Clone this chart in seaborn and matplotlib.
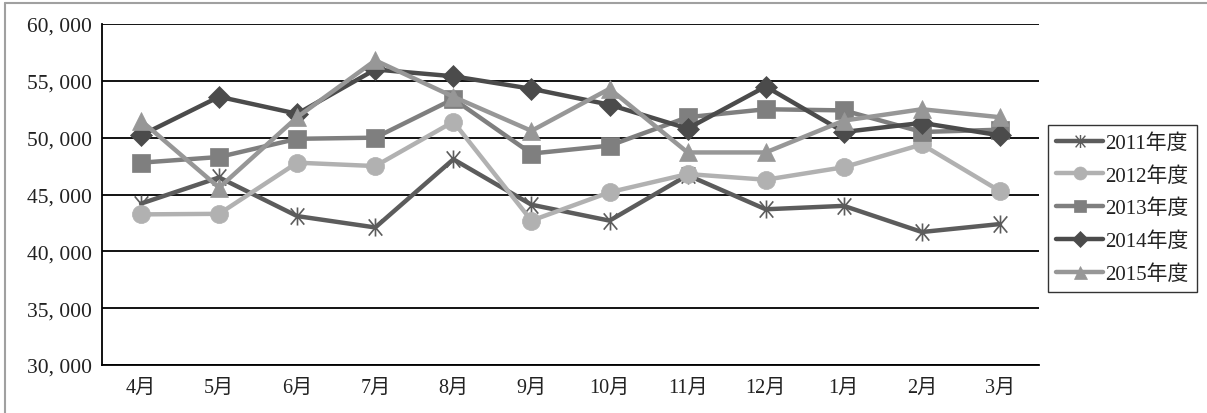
import matplotlib
matplotlib.use("Agg")
import matplotlib.pyplot as plt
from matplotlib.path import Path
from matplotlib.lines import Line2D
import seaborn as sns
import pandas as pd
import numpy as np

months = ["4月", "5月", "6月", "7月", "8月", "9月", "10月", "11月", "12月", "1月", "2月", "3月"]
series_names = ["2011年度", "2012年度", "2013年度", "2014年度", "2015年度"]
v2011 = [44200, 46500, 43100, 42100, 48100, 44100, 42700, 46700, 43700, 44000, 41700, 42400]
v2012 = [43250, 43300, 47800, 47500, 51400, 42700, 45200, 46800, 46300, 47400, 49400, 45300]
v2013 = [47800, 48300, 49900, 50000, 53400, 48600, 49300, 51800, 52500, 52400, 50500, 50700]
v2014 = [50200, 53600, 52100, 56000, 55400, 54300, 52900, 50800, 54500, 50500, 51300, 50200]
v2015 = [51500, 45600, 51800, 56800, 53600, 50600, 54300, 48700, 48700, 51500, 52500, 51800]
ytick_vals = [30000, 35000, 40000, 45000, 50000, 55000, 60000]
ytick_labels = ["30, 000", "35, 000", "40, 000", "45, 000", "50, 000", "55, 000", "60, 000"]

colors = ["#5c5c5c", "#b1b1b1", "#7f7f7f", "#4b4b4b", "#979797"]

# asterisk marker: vertical + X
ast = Path([(0, -1), (0, 1), (-0.75, -0.9), (0.75, 0.9), (-0.75, 0.9), (0.75, -0.9)],
           [Path.MOVETO, Path.LINETO, Path.MOVETO, Path.LINETO, Path.MOVETO, Path.LINETO])
markers = [ast, "o", "s", "D", "^"]
msizes = [13, 13, 12.5, 11, 13]

sns.set_theme(style="white")
plt.rcParams["font.family"] = ["Liberation Serif", "Noto Sans CJK JP", "DejaVu Sans"]

fig = plt.figure(figsize=(12.07, 4.14), dpi=100)
ax = fig.add_axes([102 / 1207, 1 - 366 / 414, (1039 - 102) / 1207, (366 - 25) / 414])

data = [v2011, v2012, v2013, v2014, v2015]
x = np.arange(len(months))
handles = []
for name, vals, c, m, ms in zip(series_names, data, colors, markers, msizes):
    df = pd.DataFrame({"x": x, "y": vals})
    sns.lineplot(data=df, x="x", y="y", ax=ax, color=c, linewidth=3.2,
                 marker=m, markersize=ms, markeredgecolor=c, markerfacecolor=c,
                 markeredgewidth=1.2 if m is ast else 0.5, zorder=3)
    handles.append(Line2D([], [], color=c, linewidth=3.2, marker=m,
                          markersize=ms * 0.72, markeredgecolor=c, markerfacecolor=c,
                          markeredgewidth=1.0 if m is ast else 0.5))

ax.set_xlim(-0.5, len(months) - 0.5)
ax.set_ylim(30000, 60000)
ax.set_yticks(ytick_vals)
ax.set_yticklabels(ytick_labels, fontsize=15.5)
ax.set_xticks(x)
ax.set_xticklabels(months, fontsize=14.5)
ax.set_xticks(np.arange(-0.5, len(months), 1.0), minor=True)
ax.tick_params(axis="x", which="major", length=0, pad=9, colors="#222222")
ax.tick_params(axis="x", which="minor", length=6, width=1.2, color="black", direction="out")
ax.tick_params(axis="y", which="major", length=5, width=1.2, color="black", direction="out", pad=2,
               labelcolor="#222222")
ax.set_xlabel("")
ax.set_ylabel("")
ax.grid(axis="y", color="black", linewidth=1.3, zorder=1)
ax.grid(axis="x", visible=False)
ax.set_axisbelow(True)
for s in ["top", "right"]:
    ax.spines[s].set_visible(False)
for s in ["left", "bottom"]:
    ax.spines[s].set_color("black")
    ax.spines[s].set_linewidth(1.3)

leg = fig.legend(handles, series_names, loc="upper left",
                 bbox_to_anchor=(1048 / 1207, 1 - 126 / 414),
                 bbox_transform=fig.transFigure, frameon=True, fancybox=False,
                 fontsize=15, handlelength=2.25, handletextpad=0.1, labelspacing=0.63,
                 borderpad=0.4, borderaxespad=0, edgecolor="black")
leg.get_frame().set_linewidth(1.0)
for t in leg.get_texts():
    t.set_color("#222222")

# outer chart border (top and left visible)
fig.add_artist(Line2D([5 / 1207, 1], [1 - 4 / 414, 1 - 4 / 414], transform=fig.transFigure,
                      color="#a0a0a0", linewidth=1.5))
fig.add_artist(Line2D([5 / 1207, 5 / 1207], [0, 1 - 4 / 414], transform=fig.transFigure,
                      color="#a0a0a0", linewidth=1.5))

fig.savefig("out.png", dpi=100)
